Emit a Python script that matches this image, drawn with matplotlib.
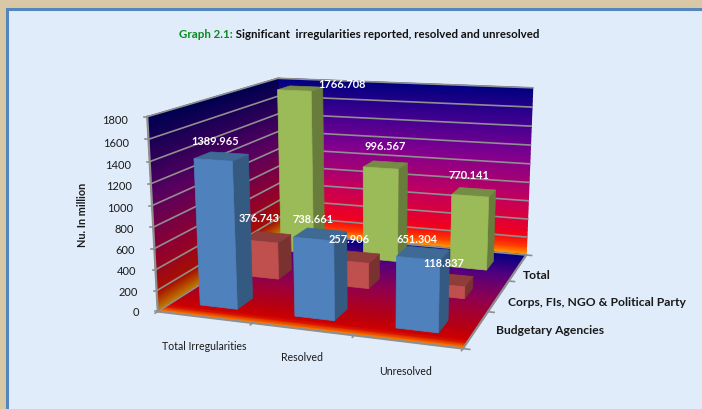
import numpy as np
import matplotlib
matplotlib.use("Agg")
import matplotlib.pyplot as plt
from matplotlib.colors import LinearSegmentedColormap
from matplotlib.patches import Polygon, Rectangle

plt.rcParams['font.family'] = ['Lato', 'DejaVu Sans']

categories = ["Total Irregularities", "Resolved", "Unresolved"]
series = ["Budgetary Agencies", "Corps, FIs, NGO & Political Party", "Total"]
budgetary = [1389.965, 738.661, 651.304]
corps = [376.743, 257.906, 118.837]
total = [1766.708, 996.567, 770.141]
yticks = [0, 200, 400, 600, 800, 1000, 1200, 1400, 1600, 1800]

# front, top, side colour of the bars
face_colors = [("#4f81bd", "#3f6a96", "#355a82"),
               ("#c0504d", "#8f3d3b", "#7a3230"),
               ("#9bbb59", "#748c43", "#687d3c")]

# box corners in image pixels, used to fit the camera
corners = [((0, 0, 0), (157, 310)), ((0, 0, 1800), (148, 118)),
           ((0, 3, 0), (282, 237)), ((0, 3, 1800), (277, 78)),
           ((3, 3, 0), (526, 253)), ((3, 3, 1800), (533, 90)),
           ((3, 0, 0), (463, 352))]

rows = []
rhs = []
for (x, y, z), (u, v) in corners:
    z = z / 1800.0
    rows.append([x, y, z, 1, 0, 0, 0, 0, -u*x, -u*y, -u*z])
    rows.append([0, 0, 0, 0, x, y, z, 1, -v*x, -v*y, -v*z])
    rhs += [u, v]
cam = np.linalg.lstsq(np.array(rows, float), np.array(rhs, float), rcond=None)[0]
cam = np.append(cam, 1).reshape(3, 4)


def proj(x, y, z):
    x, y, z = np.asarray(x, float), np.asarray(y, float), np.asarray(z, float) / 1800.0
    w = cam[2, 0]*x + cam[2, 1]*y + cam[2, 2]*z + cam[2, 3]
    u = (cam[0, 0]*x + cam[0, 1]*y + cam[0, 2]*z + cam[0, 3]) / w
    v = (cam[1, 0]*x + cam[1, 1]*y + cam[1, 2]*z + cam[1, 3]) / w
    return u, v


def gradient(x, y, z, c, cmap):
    u, v = proj(x, y, z)
    ax.pcolormesh(u, v, c, cmap=cmap, vmin=0, vmax=1, shading="gouraud", zorder=2)


def quad(pts, color, zorder):
    ax.add_patch(Polygon([proj(*p) for p in pts], closed=True, fc=color, ec=color, lw=0.5, zorder=zorder))


back_cmap = LinearSegmentedColormap.from_list("back", [(0, "#ffa000"), (0.06, "#ff3000"), (0.13, "#f00020"),
                                                       (0.35, "#c00060"), (0.6, "#800090"), (0.8, "#400090"), (1, "#000080")])
left_cmap = LinearSegmentedColormap.from_list("left", [(0, "#c08000"), (0.1, "#a81000"), (0.3, "#900030"),
                                                       (0.6, "#580060"), (1, "#000050")])
floor_cmap = LinearSegmentedColormap.from_list("floor", [(0, "#ff9000"), (0.06, "#d00000"), (0.16, "#b80010"),
                                                         (0.45, "#900050"), (0.75, "#500080"), (1, "#000080")])

fig = plt.figure(figsize=(7.02, 4.10), dpi=100)
ax = fig.add_axes([0, 0, 1, 1])
ax.set_xlim(0, 702)
ax.set_ylim(410, 0)
ax.axis("off")

# page background and frame
ax.add_patch(Rectangle((0, 0), 702, 410, fc="#d8c8a6", ec="none", zorder=0))
ax.add_patch(Rectangle((6.5, 9.5), 700, 405, fc="#e0ecfa", ec="#5585bd", lw=2.2, zorder=1))

# walls and floor
s = np.linspace(0, 1, 40)
t = np.linspace(0, 1, 2)
S, T = np.meshgrid(s, t)
gradient(3*T, 3 + 0*T, 1800*S, S, back_cmap)
gradient(0*T, 3*T, 1800*S, S, left_cmap)
gradient(3*T, 3*S, 0*S, S, floor_cmap)

grid_color = "#8f8f8f"
for v in yticks:
    u1, v1 = proj([0, 0, 3], [0, 3, 3], [v, v, v])
    ax.plot(u1, v1, color=grid_color, lw=1.2, zorder=3)
    tu, tv = proj(0, 0, v)
    ax.plot([tu - 3, tu], [tv, tv], color=grid_color, lw=1.2, zorder=3)
    ax.text(tu - 19, tv + 0.5 + 2.5 * v / 1800.0, str(v), ha="right", va="center", fontsize=8, color="#1a1a1a", zorder=6)

# axis edges
u1, v1 = proj([0, 0], [0, 0], [0, 1800])
ax.plot(u1, v1, color=grid_color, lw=1.6, zorder=3)
u1, v1 = proj([0, 3, 3], [0, 0, 3], [0, 0, 0])
ax.plot(u1, v1, color=grid_color, lw=1.6, zorder=3)
for i in range(4):
    u1, v1 = proj([i, i], [0, -0.05], [0, 0])
    ax.plot(u1, v1, color=grid_color, lw=1.2, zorder=3)
    u1, v1 = proj([3, 3.06], [i, i], [0, 0])
    ax.plot(u1, v1, color=grid_color, lw=1.2, zorder=3)

# bars, back row first so the front ones cover them
values = [budgetary, corps, total]
z = 4.0
for r in (2, 1, 0):
    for c in range(3):
        h = values[r][c]
        x0, x1 = c + 0.3, c + 0.7
        y0, y1 = r + 0.3, r + 0.65
        front, top, side = face_colors[r]
        quad([(x1, y0, 0), (x1, y1, 0), (x1, y1, h), (x1, y0, h)], side, z)
        quad([(x0, y0, h), (x1, y0, h), (x1, y1, h), (x0, y1, h)], top, z)
        quad([(x0, y0, 0), (x1, y0, 0), (x1, y0, h), (x0, y0, h)], front, z)
        z += 0.01

# value labels
label_values = [budgetary[0], total[0], corps[0], budgetary[1], corps[1], total[1], budgetary[2], corps[2], total[2]]
label_pos = [(215, 142), (342, 85), (259, 219), (313, 220), (349, 240), (385, 147), (417, 240), (444, 264), (469, 176)]
for val, (lx, ly) in zip(label_values, label_pos):
    ax.text(lx, ly, "%.3f" % val, ha="center", va="center", color="white", fontsize=7.9, fontweight="bold", zorder=7)

# category and series labels
cat_pos = [(204, 347), (302, 358), (406, 372)]
for name, (lx, ly) in zip(categories, cat_pos):
    ax.text(lx, ly, name, ha="center", va="center", fontsize=7.6, color="#1a1a1a", zorder=6)
series_pos = [(496, 331), (508, 303), (523, 276)]
for name, (lx, ly) in zip(series, series_pos):
    ax.text(lx, ly, name, ha="left", va="center", fontsize=8.7, fontweight="bold", color="#1a1a1a", zorder=6)

ax.text(83, 215, "Nu. In million", rotation=90, ha="center", va="center", fontsize=7.8, fontweight="bold", color="#1a1a1a", zorder=6)

# title in two colours
t1 = ax.text(179, 35, "Graph 2.1:", ha="left", va="center", fontsize=8.3, fontweight="bold", color="#0a8a1e", zorder=6)
ax.annotate(" Significant  irregularities reported, resolved and unresolved", xy=(1, 0.5), xycoords=t1,
            ha="left", va="center", fontsize=8.3, fontweight="bold", color="#111111", zorder=6)

fig.savefig("out.png", dpi=100)
